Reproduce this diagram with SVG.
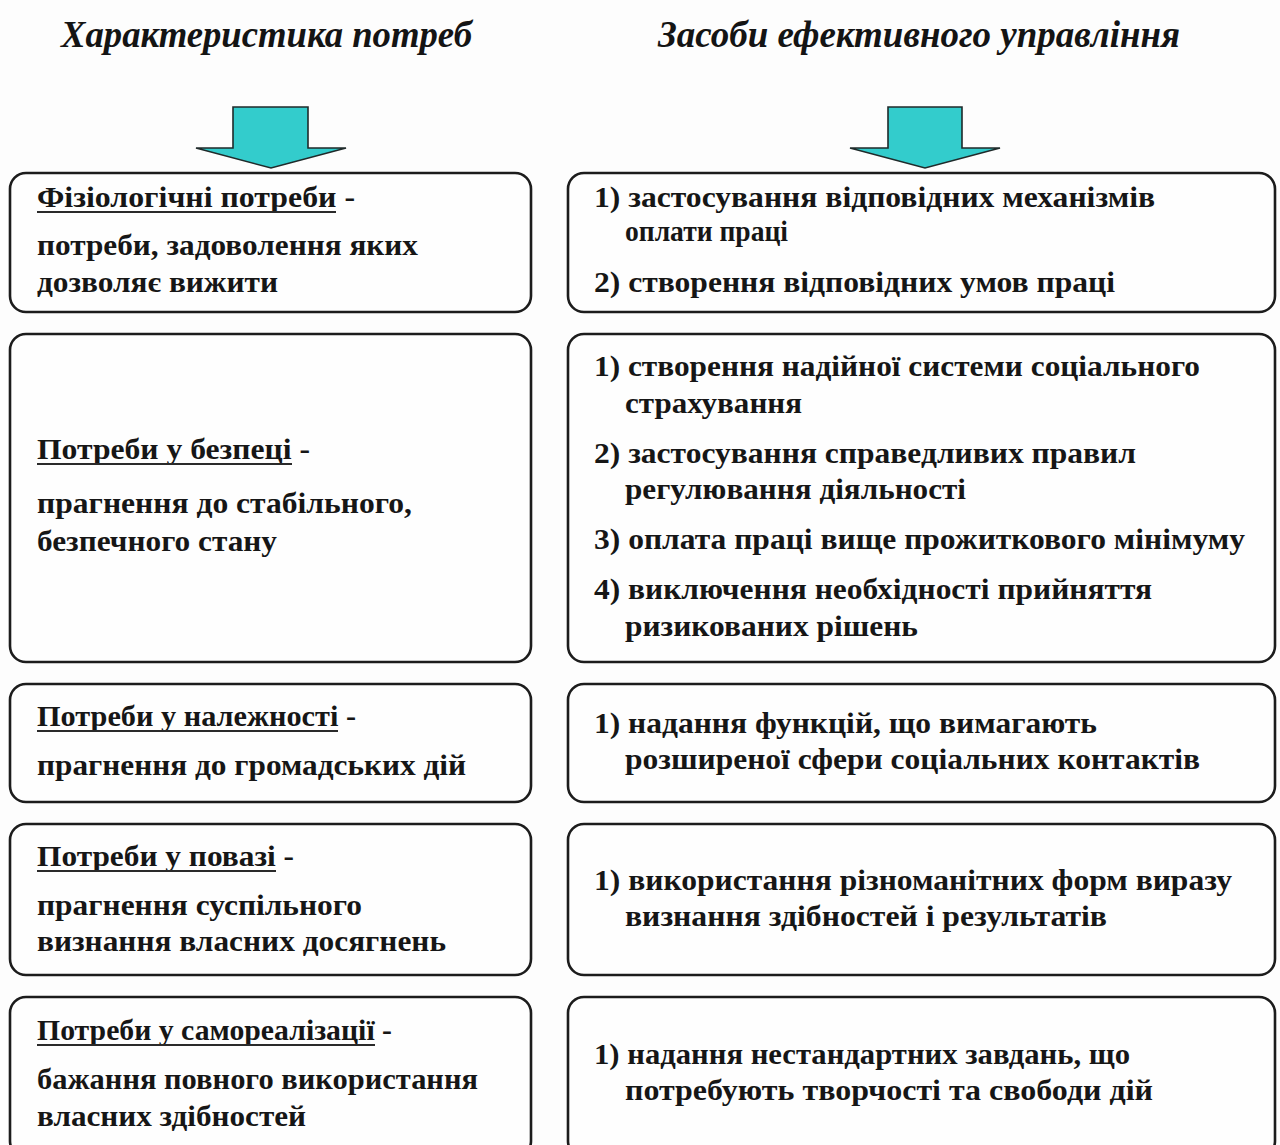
<svg xmlns="http://www.w3.org/2000/svg" width="1280" height="1145" viewBox="0 0 1280 1145">
  <style>
    .bg { fill: #fdfdfd; }
    .box { fill: #fefefe; stroke: #1c1c1c; stroke-width: 2.6; }
    .arrow { fill: #33cccc; stroke: #1f2a2a; stroke-width: 1.6; stroke-linejoin: miter; }
    .title { font-family: "Liberation Serif", "Times New Roman", serif; font-style: italic; font-weight: bold; font-size: 38px; fill: #141414; }
    .t { font-family: "Liberation Serif", "Times New Roman", serif; font-weight: bold; font-size: 30px; fill: #161616; }
    .ul { stroke: #2a2a2a; stroke-width: 2.2; }
  </style>

  <rect class="bg" x="0" y="0" width="1280" height="1145"/>

  <!-- column headings -->
  <g id="heading-needs">
    <text class="title" x="61" y="47" textLength="411" lengthAdjust="spacingAndGlyphs">Характеристика потреб</text>
  </g>
  <g id="heading-means">
    <text class="title" x="658" y="47" textLength="522" lengthAdjust="spacingAndGlyphs">Засоби ефективного управління</text>
  </g>

  <!-- block arrows under the headings -->
  <g id="connectors">
    <path class="arrow" d="M233,107 H308 V148 H346 L271,168 L196,148 H233 Z"/>
    <path class="arrow" d="M888,107 H962 V148 H1000 L925,168 L850,148 H888 Z"/>
  </g>

  <!-- row 1 -->
  <g id="need-physiological">
    <rect class="box" x="10" y="173" width="521" height="139" rx="16"/>
    <text class="t" x="37" y="207" textLength="318" lengthAdjust="spacingAndGlyphs">Фізіологічні потреби -</text>
    <line class="ul" x1="37" y1="212" x2="336" y2="212"/>
    <text class="t" x="37" y="255" textLength="381" lengthAdjust="spacingAndGlyphs">потреби, задоволення яких</text>
    <text class="t" x="37" y="292" textLength="241" lengthAdjust="spacingAndGlyphs">дозволяє вижити</text>
  </g>
  <g id="means-physiological">
    <rect class="box" x="568" y="173" width="707" height="139" rx="16"/>
    <text class="t" x="594" y="207" textLength="561" lengthAdjust="spacingAndGlyphs">1) застосування відповідних механізмів</text>
    <text class="t" x="625" y="241" textLength="163" lengthAdjust="spacingAndGlyphs">оплати праці</text>
    <text class="t" x="594" y="292" textLength="521" lengthAdjust="spacingAndGlyphs">2) створення відповідних умов праці</text>
  </g>

  <!-- row 2 -->
  <g id="need-safety">
    <rect class="box" x="10" y="334" width="521" height="328" rx="16"/>
    <text class="t" x="37" y="459" textLength="273" lengthAdjust="spacingAndGlyphs">Потреби у безпеці -</text>
    <line class="ul" x1="37" y1="464" x2="292" y2="464"/>
    <text class="t" x="37" y="513" textLength="375" lengthAdjust="spacingAndGlyphs">прагнення до стабільного,</text>
    <text class="t" x="37" y="551" textLength="240" lengthAdjust="spacingAndGlyphs">безпечного стану</text>
  </g>
  <g id="means-safety">
    <rect class="box" x="568" y="334" width="707" height="328" rx="16"/>
    <text class="t" x="594" y="376" textLength="606" lengthAdjust="spacingAndGlyphs">1) створення надійної системи соціального</text>
    <text class="t" x="625" y="413" textLength="177" lengthAdjust="spacingAndGlyphs">страхування</text>
    <text class="t" x="594" y="463" textLength="542" lengthAdjust="spacingAndGlyphs">2) застосування справедливих правил</text>
    <text class="t" x="625" y="499" textLength="341" lengthAdjust="spacingAndGlyphs">регулювання діяльності</text>
    <text class="t" x="594" y="549" textLength="651" lengthAdjust="spacingAndGlyphs">3) оплата праці вище прожиткового мінімуму</text>
    <text class="t" x="594" y="599" textLength="558" lengthAdjust="spacingAndGlyphs">4) виключення необхідності прийняття</text>
    <text class="t" x="625" y="636" textLength="293" lengthAdjust="spacingAndGlyphs">ризикованих рішень</text>
  </g>

  <!-- row 3 -->
  <g id="need-belonging">
    <rect class="box" x="10" y="684" width="521" height="118" rx="16"/>
    <text class="t" x="37" y="726" textLength="319" lengthAdjust="spacingAndGlyphs">Потреби у належності -</text>
    <line class="ul" x1="37" y1="731" x2="338" y2="731"/>
    <text class="t" x="37" y="775" textLength="429" lengthAdjust="spacingAndGlyphs">прагнення до громадських дій</text>
  </g>
  <g id="means-belonging">
    <rect class="box" x="568" y="684" width="707" height="118" rx="16"/>
    <text class="t" x="594" y="733" textLength="503" lengthAdjust="spacingAndGlyphs">1) надання функцій, що вимагають</text>
    <text class="t" x="625" y="769" textLength="575" lengthAdjust="spacingAndGlyphs">розширеної сфери соціальних контактів</text>
  </g>

  <!-- row 4 -->
  <g id="need-esteem">
    <rect class="box" x="10" y="824" width="521" height="151" rx="16"/>
    <text class="t" x="37" y="866" textLength="257" lengthAdjust="spacingAndGlyphs">Потреби у повазі -</text>
    <line class="ul" x1="37" y1="871" x2="276" y2="871"/>
    <text class="t" x="37" y="915" textLength="325" lengthAdjust="spacingAndGlyphs">прагнення суспільного</text>
    <text class="t" x="37" y="951" textLength="409" lengthAdjust="spacingAndGlyphs">визнання власних досягнень</text>
  </g>
  <g id="means-esteem">
    <rect class="box" x="568" y="824" width="707" height="151" rx="16"/>
    <text class="t" x="594" y="890" textLength="638" lengthAdjust="spacingAndGlyphs">1) використання різноманітних форм виразу</text>
    <text class="t" x="625" y="926" textLength="482" lengthAdjust="spacingAndGlyphs">визнання здібностей і результатів</text>
  </g>

  <!-- row 5 -->
  <g id="need-self-actualization">
    <rect class="box" x="10" y="997" width="521" height="160" rx="16"/>
    <text class="t" x="37" y="1040" textLength="355" lengthAdjust="spacingAndGlyphs">Потреби у самореалізації -</text>
    <line class="ul" x1="37" y1="1045" x2="375" y2="1045"/>
    <text class="t" x="37" y="1089" textLength="441" lengthAdjust="spacingAndGlyphs">бажання повного використання</text>
    <text class="t" x="37" y="1126" textLength="269" lengthAdjust="spacingAndGlyphs">власних здібностей</text>
  </g>
  <g id="means-self-actualization">
    <rect class="box" x="568" y="997" width="707" height="160" rx="16"/>
    <text class="t" x="594" y="1064" textLength="536" lengthAdjust="spacingAndGlyphs">1) надання нестандартних завдань, що</text>
    <text class="t" x="625" y="1100" textLength="528" lengthAdjust="spacingAndGlyphs">потребують творчості та свободи дій</text>
  </g>
</svg>
